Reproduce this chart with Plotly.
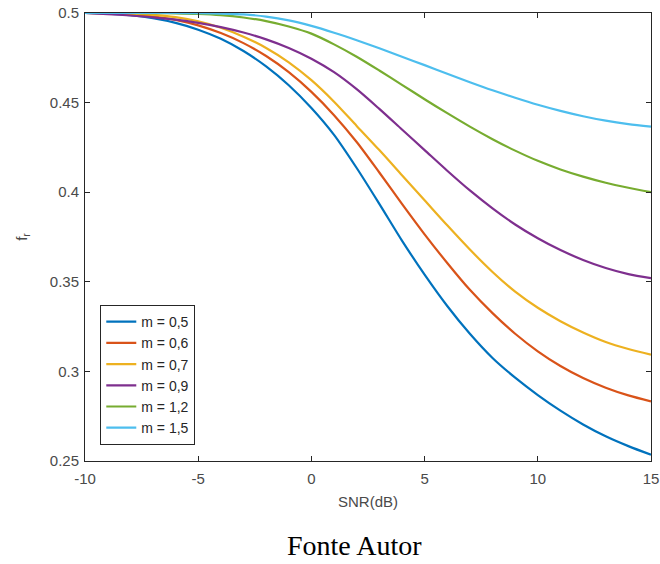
import plotly.graph_objects as go

snr = list(range(-10, 16))
x_ticks = [-10, -5, 0, 5, 10, 15]
x_ticktext = ["-10", "-5", "0", "5", "10", "15"]
y_ticks = [0.25, 0.3, 0.35, 0.4, 0.45, 0.5]
y_ticktext = ["0.25", "0.3", "0.35", "0.4", "0.45", "0.5"]

fr_m05 = [0.5000, 0.4997, 0.4988, 0.4971, 0.4945, 0.4907, 0.4856, 0.4788, 0.4702, 0.4597,
          0.4470, 0.4320, 0.4135, 0.3935, 0.3730, 0.3540, 0.3365, 0.3210, 0.3075, 0.2965,
          0.2868, 0.2781, 0.2704, 0.2638, 0.2583, 0.2535]
fr_m06 = [0.5000, 0.4998, 0.4993, 0.4982, 0.4962, 0.4931, 0.4888, 0.4832, 0.4760, 0.4670,
          0.4560, 0.4430, 0.4280, 0.4110, 0.3935, 0.3765, 0.3605, 0.3455, 0.3325, 0.3210,
          0.3112, 0.3030, 0.2963, 0.2909, 0.2866, 0.2833]
fr_m07 = [0.5000, 0.4999, 0.4996, 0.4990, 0.4977, 0.4954, 0.4918, 0.4868, 0.4805, 0.4725,
          0.4625, 0.4505, 0.4370, 0.4235, 0.4095, 0.3955, 0.3815, 0.3680, 0.3555, 0.3445,
          0.3355, 0.3280, 0.3217, 0.3164, 0.3125, 0.3093]
fr_m09 = [0.5000, 0.4994, 0.4986, 0.4976, 0.4963, 0.4945, 0.4921, 0.4891, 0.4853, 0.4805,
          0.4745, 0.4670, 0.4575, 0.4465, 0.4350, 0.4235, 0.4120, 0.4010, 0.3910, 0.3820,
          0.3743, 0.3677, 0.3622, 0.3577, 0.3543, 0.3520]
fr_m12 = [0.5000, 0.5000, 0.5000, 0.4999, 0.4998, 0.4995, 0.4988, 0.4975, 0.4955, 0.4925,
          0.4885, 0.4825, 0.4756, 0.4679, 0.4599, 0.4519, 0.4441, 0.4366, 0.4296, 0.4232,
          0.4175, 0.4127, 0.4087, 0.4053, 0.4025, 0.4000]
fr_m15 = [0.5000, 0.5000, 0.5000, 0.5000, 0.5000, 0.4999, 0.4997, 0.4992, 0.4980, 0.4959,
          0.4928, 0.4890, 0.4848, 0.4803, 0.4756, 0.4709, 0.4661, 0.4614, 0.4569, 0.4527,
          0.4488, 0.4454, 0.4424, 0.4399, 0.4380, 0.4366]

series = [
    ("m = 0,5", fr_m05, "#0072BD"),
    ("m = 0,6", fr_m06, "#D95319"),
    ("m = 0,7", fr_m07, "#EDB120"),
    ("m = 0,9", fr_m09, "#7E2F8E"),
    ("m = 1,2", fr_m12, "#77AC30"),
    ("m = 1,5", fr_m15, "#4DBEEE"),
]

fig = go.Figure()
for name, vals, color in series:
    fig.add_trace(go.Scatter(x=snr, y=vals, mode="lines", name=name,
                             line=dict(color=color, width=2.2, shape="spline", smoothing=0.8)))

font_axis = dict(family="Liberation Sans, Arial", size=15, color="#4a4a4a")
axis_common = dict(showline=True, linecolor="#262626", linewidth=1, mirror="allticks",
                   ticks="inside", ticklen=5, tickcolor="#262626", showgrid=False,
                   zeroline=False, automargin=False, tickfont=font_axis)

fig.update_layout(
    width=660, height=564,
    margin=dict(l=85, r=9, t=13, b=103),
    paper_bgcolor="white", plot_bgcolor="white",
    xaxis=dict(range=[-10, 15], tickvals=x_ticks, ticktext=x_ticktext, ticklabelstandoff=4,
               title=dict(text="SNR(dB)", font=font_axis, standoff=10),
               **axis_common),
    yaxis=dict(range=[0.25, 0.5], tickvals=y_ticks, ticktext=y_ticktext, ticklabelstandoff=2,
               title=dict(text="f<sub>r</sub>", font=font_axis, standoff=18),
               **axis_common),
    legend=dict(x=0.027, y=0.348, xanchor="left", yanchor="top",
                bordercolor="#262626", borderwidth=1, bgcolor="white",
                font=dict(family="Liberation Sans, Arial", size=14, color="#262626"),
                tracegroupgap=0),
    showlegend=True,
    annotations=[dict(text="Fonte Autor", xref="paper", yref="paper",
                      x=(354 - 85) / 566, y=-(545 - 461) / 448, xanchor="center", yanchor="middle",
                      showarrow=False,
                      font=dict(family="Liberation Serif, Times New Roman", size=28, color="black"))],
)

fig.write_html("out.html")
